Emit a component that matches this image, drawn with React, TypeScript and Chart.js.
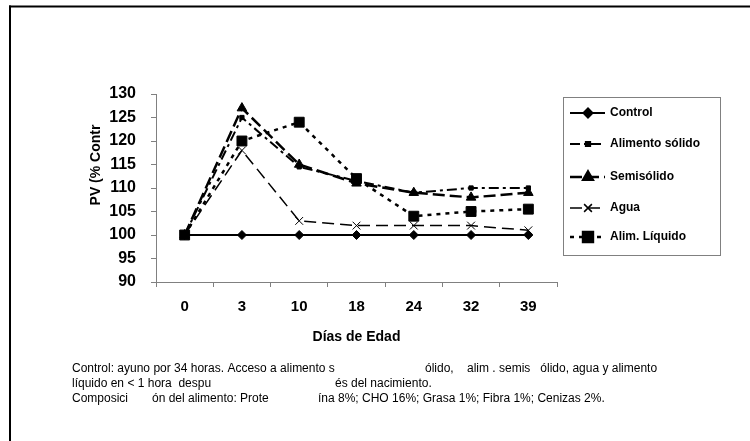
import React, { useEffect, useRef } from 'react';
import { Chart, registerables } from 'chart.js';
import { drawPoint } from 'chart.js/helpers';

Chart.register(...registerables);

// ---------- data ----------
const categories = ['0', '3', '10', '18', '24', '32', '39'];
const seriesNames = ['Control', 'Alimento sólido', 'Semisólido', 'Agua', 'Alim. Líquido'];
const control = [100, 100, 100, 100, 100, 100, 100];
const alimentoSolido = [100, 125, 114.5, 111.5, 109, 110, 110];
const semisolido = [100, 127, 115, 111, 109, 108, 109];
const agua = [100, 118, 103, 102, 102, 102, 101];
const alimLiquido = [100, 120, 124, 112, 104, 105, 105.5];
const yMin = 90;
const yMax = 130;
const yStep = 5;
const yTitle = 'PV (% Contr';
const xTitle = 'Días de Edad';
const footnoteSegments: [string, number, number][] = [
  ['Control: ayuno por 34 horas. Acceso a alimento s', 72, 369],
  ['ólido,    alim . semis   ólido, agua y alimento', 425, 369],
  ['líquido en < 1 hora  despu', 72, 384],
  ['és del nacimiento.', 335, 384],
  ['Composici', 72, 399],
  ['ón del alimento: Prote', 152, 399],
  ['ína 8%; CHO 16%; Grasa 1%; Fibra 1%; Cenizas 2%.', 318, 399],
];

const FONT = '"Liberation Sans", Arial, sans-serif';

const styles = [
  { dash: [] as number[], width: 2, point: 'rectRot', radius: 4.5 },
  { dash: [10, 4, 3, 4], width: 2, point: 'rect', radius: 3 },
  { dash: [12, 5], width: 2.5, point: 'triangle', radius: 5.5 },
  { dash: [12, 6], width: 1.5, point: 'crossRot', radius: 5.5 },
  { dash: [4, 5], width: 2.5, point: 'rect', radius: 7 },
];

const legendRows = [113, 144, 177, 208, 237];

const decorPlugin = {
  id: 'decor',
  afterDraw(chart: any) {
    const ctx: CanvasRenderingContext2D = chart.ctx;
    const area = chart.chartArea;
    ctx.save();
    // frame
    ctx.fillStyle = '#000';
    ctx.fillRect(9, 5.5, 741, 2);
    ctx.fillRect(9, 5.5, 2, 436);

    // y title
    ctx.save();
    ctx.translate(96, 165);
    ctx.rotate(-Math.PI / 2);
    ctx.font = `bold 14px ${FONT}`;
    ctx.textAlign = 'center';
    ctx.textBaseline = 'middle';
    ctx.fillStyle = '#000';
    ctx.fillText(yTitle, 0, 0);
    ctx.restore();

    // x title
    ctx.font = `bold 14px ${FONT}`;
    ctx.textAlign = 'center';
    ctx.textBaseline = 'middle';
    ctx.fillText(xTitle, (area.left + area.right) / 2, 337);

    // legend
    ctx.strokeStyle = '#808080';
    ctx.lineWidth = 1;
    ctx.strokeRect(563.5, 97.5, 157, 158);
    chart.data.datasets.forEach((ds: any, i: number) => {
      const y = legendRows[i];
      const st = styles[i];
      ctx.save();
      ctx.strokeStyle = '#000';
      ctx.fillStyle = '#000';
      ctx.lineWidth = st.width;
      ctx.setLineDash(st.dash);
      ctx.beginPath();
      ctx.moveTo(570, y);
      ctx.lineTo(605, y);
      ctx.stroke();
      ctx.setLineDash([]);
      drawPoint(ctx, { pointStyle: st.point, radius: st.radius, borderWidth: 1, rotation: 0 } as any, 588, y);
      ctx.restore();
      ctx.font = `bold 12px ${FONT}`;
      ctx.textAlign = 'left';
      ctx.textBaseline = 'middle';
      ctx.fillStyle = '#000';
      ctx.fillText(ds.label, 610, y);
    });

    // footnote
    ctx.font = `12px ${FONT}`;
    ctx.textAlign = 'left';
    ctx.textBaseline = 'middle';
    ctx.fillStyle = '#000';
    footnoteSegments.forEach(([t, x, y]) => ctx.fillText(t, x, y));
    ctx.restore();
  },
};

export default function App() {
  const ref = useRef<HTMLCanvasElement>(null);
  useEffect(() => {
    document.body.style.margin = '0';
    const seriesValues = [control, alimentoSolido, semisolido, agua, alimLiquido];
    const chart = new Chart(ref.current!, {
      type: 'line',
      data: {
        labels: categories,
        datasets: seriesValues.map((vals, i) => ({
          label: seriesNames[i],
          data: vals,
          borderColor: '#000',
          backgroundColor: '#000',
          borderWidth: styles[i].width,
          borderDash: styles[i].dash,
          pointStyle: styles[i].point as any,
          pointRadius: styles[i].radius,
          pointBorderWidth: 1,
          pointBackgroundColor: '#000',
          pointBorderColor: '#000',
          tension: 0,
          fill: false,
        })),
      },
      options: {
        animation: false,
        responsive: false,
        maintainAspectRatio: false,
        events: [],
        layout: { padding: { left: 0, top: 94, right: 193, bottom: 0 } },
        plugins: { legend: { display: false }, tooltip: { enabled: false }, title: { display: false } },
        scales: {
          x: {
            type: 'category',
            offset: true,
            grid: { offset: true, drawOnChartArea: false, drawTicks: true, tickLength: 5, color: '#808080' },
            border: { color: '#808080', width: 1 },
            ticks: { color: '#000', font: { family: FONT, size: 15, weight: 'bold' }, padding: 11, maxRotation: 0, autoSkip: false },
            afterFit: (s: any) => { s.height = 159; },
          },
          y: {
            min: yMin,
            max: yMax,
            ticks: { stepSize: yStep, color: '#000', font: { family: FONT, size: 16, weight: 'bold' }, padding: 15 },
            grid: { drawOnChartArea: false, drawTicks: true, tickLength: 5, color: '#808080' },
            border: { color: '#808080', width: 1 },
            afterFit: (s: any) => { s.width = 156; },
          },
        },
      },
      plugins: [decorPlugin],
    });
    return () => chart.destroy();
  }, []);
  return <canvas ref={ref} width={750} height={441} style={{ display: 'block' }} />;
}
